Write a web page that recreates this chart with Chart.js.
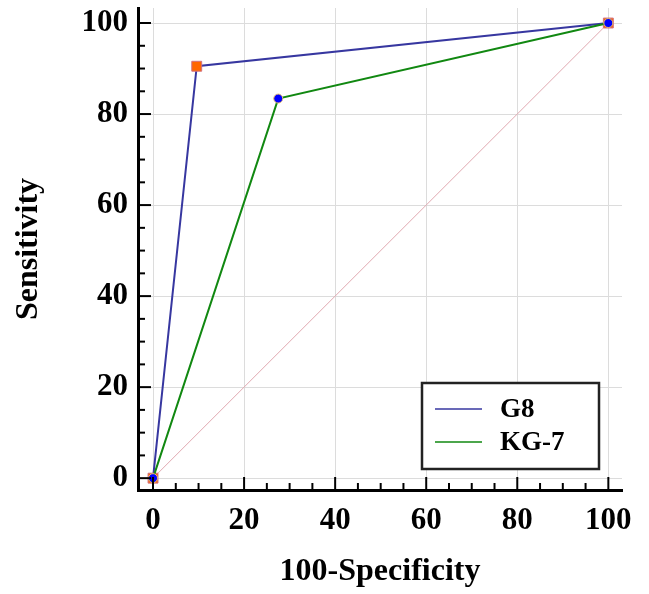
<!DOCTYPE html>
<html>
<head>
<meta charset="utf-8">
<script src="https://cdn.jsdelivr.net/npm/chart.js@4/dist/chart.umd.min.js"></script>
<style>
  html, body { margin: 0; padding: 0; background: #fff; }
  #wrap { width: 649px; height: 594px; }
</style>
</head>
<body>
<div id="wrap"><canvas id="roc" width="649" height="594"></canvas></div>
<script>
// ROC data (100-Specificity, Sensitivity)
const g8X = [0, 9.6, 100];
const g8Y = [0, 90.5, 100];
const kg7X = [0, 27.5, 100];
const kg7Y = [0, 83.4, 100];
const refX = [0, 100];
const refY = [0, 100];
const tickValues = [0, 20, 40, 60, 80, 100];
const minorStep = 5;

const FONT = '"Liberation Serif", "Times New Roman", serif';

function toPoints(xs, ys) {
    return xs.map((x, i) => ({ x: x, y: ys[i] }));
}

// Ticks pointing into the plot, major every 20 and minor every 5
const axisTicks = {
    id: 'axisTicks',
    afterDraw(chart) {
        const ctx = chart.ctx;
        const xs = chart.scales.x;
        const ys = chart.scales.y;
        const area = chart.chartArea;
        ctx.save();
        ctx.strokeStyle = '#000';
        ctx.lineWidth = 2;
        for (let v = 0; v <= 100; v += minorStep) {
            const len = v % 20 === 0 ? 13 : 7;
            const px = xs.getPixelForValue(v);
            ctx.beginPath();
            ctx.moveTo(px, area.bottom);
            ctx.lineTo(px, area.bottom - len);
            ctx.stroke();
            const py = ys.getPixelForValue(v);
            ctx.beginPath();
            ctx.moveTo(area.left, py);
            ctx.lineTo(area.left + len, py);
            ctx.stroke();
        }
        ctx.restore();
    }
};

// Legend box inside the plot, G8 first
const insideLegend = {
    id: 'insideLegend',
    afterDraw(chart) {
        const ctx = chart.ctx;
        const left = 422, top = 383, w = 177, h = 86;
        ctx.save();
        ctx.fillStyle = '#fff';
        ctx.fillRect(left, top, w, h);
        ctx.strokeStyle = '#222';
        ctx.lineWidth = 2.5;
        ctx.strokeRect(left, top, w, h);
        const items = chart.data.datasets
            .filter(d => d.legendPos !== undefined)
            .sort((a, b) => a.legendPos - b.legendPos);
        ctx.font = 'bold 27px ' + FONT;
        ctx.textBaseline = 'middle';
        items.forEach((d, i) => {
            const y = top + 26 + i * 33;
            ctx.strokeStyle = d.borderColor;
            ctx.lineWidth = 1.5;
            ctx.beginPath();
            ctx.moveTo(left + 13, y);
            ctx.lineTo(left + 60, y);
            ctx.stroke();
            ctx.fillStyle = '#000';
            ctx.fillText(d.label, left + 78, y + 1);
        });
        ctx.restore();
    }
};

function axisOptions(min, max, title, titlePad, fitSize, tickPad) {
    return {
        type: 'linear',
        min: min,
        max: max,
        afterBuildTicks(scale) {
            scale.ticks = tickValues.map(v => ({ value: v }));
        },
        afterFit(scale) {
            if (scale.isHorizontal()) {
                scale.height = fitSize;
            } else {
                scale.width = fitSize;
            }
            scale.paddingTop = 0;
            scale.paddingBottom = 0;
            scale.paddingLeft = 0;
            scale.paddingRight = 0;
        },
        grid: {
            color: '#dcdcdc',
            lineWidth: 1,
            drawTicks: false
        },
        border: { display: true, color: '#000', width: 3 },
        ticks: {
            color: '#000',
            padding: tickPad,
            font: { family: FONT, size: 31, weight: 'bold' }
        },
        title: {
            display: true,
            text: title,
            color: '#000',
            padding: titlePad,
            font: { family: FONT, size: 32, weight: 'bold' }
        }
    };
}

function init() {
    const ctx = document.getElementById('roc').getContext('2d');
    new Chart(ctx, {
        type: 'scatter',
        data: {
            datasets: [
                {
                    label: 'KG-7',
                    legendPos: 1,
                    data: toPoints(kg7X, kg7Y),
                    showLine: true,
                    borderColor: '#118811',
                    borderWidth: 2,
                    pointStyle: 'circle',
                    pointRadius: 4.5,
                    pointBackgroundColor: '#0000ff',
                    pointBorderColor: '#e8c070',
                    pointBorderWidth: 1,
                    order: 1
                },
                {
                    label: 'G8',
                    legendPos: 0,
                    data: toPoints(g8X, g8Y),
                    showLine: true,
                    borderColor: '#3737a0',
                    borderWidth: 2,
                    pointStyle: 'rect',
                    pointRadius: 7,
                    pointBackgroundColor: '#ff6600',
                    pointBorderColor: '#d07080',
                    pointBorderWidth: 1,
                    order: 2
                },
                {
                    label: 'Reference',
                    data: toPoints(refX, refY),
                    showLine: true,
                    borderColor: '#e0a8b0',
                    borderWidth: 1,
                    pointRadius: 0,
                    order: 3
                }
            ]
        },
        options: {
            responsive: false,
            animation: false,
            events: [],
            layout: { padding: { top: 8, right: 27, left: 0, bottom: 0 } },
            scales: {
                x: axisOptions(-3.3, 103, '100-Specificity', { top: 3, bottom: 3 }, 104, 12),
                y: axisOptions(-2.6, 103.3, 'Sensitivity', { top: 10, bottom: 10 }, 138, 10)
            },
            plugins: {
                legend: { display: false },
                tooltip: { enabled: false }
            }
        },
        plugins: [axisTicks, insideLegend]
    });
}

window.addEventListener('load', init);
</script>
</body>
</html>
